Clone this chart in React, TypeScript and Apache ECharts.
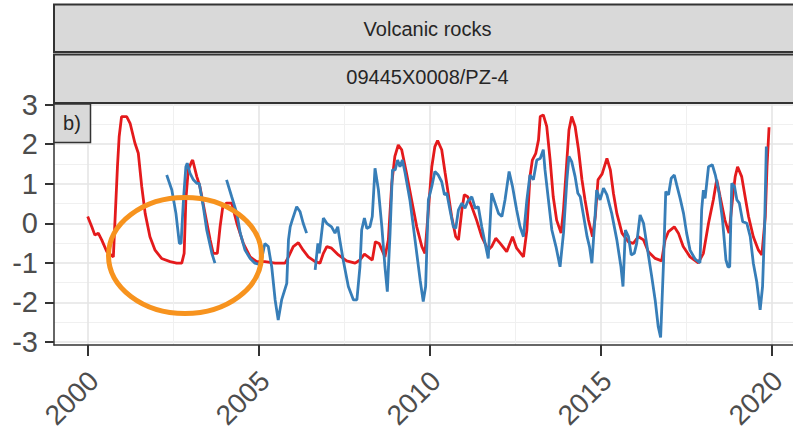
import React, { useEffect, useRef } from "react";
import * as echarts from "echarts";

const stripTitles = ["Volcanic rocks", "09445X0008/PZ-4"];
const panelTag = "b)";

const xTickYears = [2000, 2005, 2010, 2015, 2020];
const xMinorYears = [2002.5, 2007.5, 2012.5, 2017.5];
const yTicks = [-3, -2, -1, 0, 1, 2, 3];
const yMinorTicks = [-2.5, -1.5, -0.5, 0.5, 1.5, 2.5];

const redYears = [
  2000.0, 2000.12, 2000.21, 2000.31, 2000.41, 2000.56, 2000.75, 2000.87, 2000.92, 2000.99,
  2001.14, 2001.24, 2001.38, 2001.48, 2001.58, 2001.68, 2001.82, 2001.97, 2002.16, 2002.41,
  2002.6, 2002.75, 2002.82, 2002.87, 2002.94, 2003.04, 2003.07, 2003.19, 2003.28, 2003.43,
  2003.58, 2003.67, 2003.79, 2003.87, 2003.95, 2004.06, 2004.21, 2004.36, 2004.55, 2004.75,
  2004.94, 2005.18, 2005.48, 2005.77, 2005.87, 2006.01, 2006.16, 2006.3, 2006.45, 2006.65,
  2006.79, 2006.89, 2006.99, 2007.13, 2007.33, 2007.57, 2007.82, 2007.96, 2008.09, 2008.2,
  2008.32, 2008.41, 2008.52, 2008.69, 2008.79, 2008.89, 2008.98, 2009.08, 2009.18, 2009.32,
  2009.47, 2009.62, 2009.77, 2009.86, 2009.96, 2010.06, 2010.15, 2010.23, 2010.35, 2010.45,
  2010.54, 2010.64, 2010.76, 2010.84, 2010.94, 2011.01, 2011.11, 2011.23, 2011.37, 2011.52,
  2011.71, 2011.81, 2011.93, 2012.06, 2012.25, 2012.42, 2012.54, 2012.74, 2012.84, 2012.93,
  2013.0, 2013.1, 2013.18, 2013.23, 2013.32, 2013.42, 2013.52, 2013.61, 2013.71, 2013.84,
  2013.91, 2014.01, 2014.07, 2014.15, 2014.25, 2014.35, 2014.45, 2014.54, 2014.64, 2014.76,
  2014.84, 2014.92, 2015.04, 2015.18, 2015.28, 2015.37, 2015.47, 2015.62, 2015.81, 2015.95,
  2016.1, 2016.25, 2016.39, 2016.59, 2016.78, 2016.88, 2016.98, 2017.15, 2017.27, 2017.41,
  2017.61, 2017.85, 2018.0, 2018.15, 2018.29, 2018.39, 2018.49, 2018.63, 2018.75, 2018.85,
  2018.93, 2019.0, 2019.12, 2019.22, 2019.32, 2019.46, 2019.61, 2019.71, 2019.81, 2019.86,
  2019.92,
];
const redValues = [
  0.17, -0.09, -0.3, -0.25, -0.42, -0.72, -0.85, 1.43, 2.19, 2.7,
  2.7, 2.53, 2.03, 1.77, 0.93, 0.25, -0.34, -0.68, -0.89, -0.97,
  -1.01, -1.01, -0.76, 0.59, 1.35, 1.56, 1.6, 1.18, 0.93, 0.25,
  -0.42, -0.76, -0.76, -0.09, 0.42, 0.51, 0.51, 0.0, -0.51, -0.85,
  -0.97, -0.97, -1.01, -1.01, -0.85, -0.59, -0.49, -0.68, -0.85, -0.97,
  -1.01, -0.76, -0.59, -0.63, -0.8, -0.95, -1.01, -0.93, -0.78, -0.85,
  -0.93, -0.47, -0.51, -0.85, -0.42, 1.01, 1.69, 1.98, 1.86, 1.27,
  0.59, -0.09, -0.59, -0.76, 0.34, 1.43, 1.94, 2.09, 1.86, 1.27,
  0.76, 0.17, -0.34, -0.42, 0.34, 0.72, 0.67, 0.42, 0.08, -0.34,
  -0.68, -0.59, -0.38, -0.51, -0.72, -0.34, -0.63, -0.85, -0.17, 1.18,
  1.6, 1.77, 2.11, 2.7, 2.74, 2.45, 1.6, 0.67, 0.08, -0.25,
  0.34, 1.6, 2.36, 2.7, 2.45, 1.86, 1.1, 0.59, 0.08, -0.34,
  0.17, 1.1, 1.25, 1.64, 1.35, 0.76, 0.25, -0.25, -0.47, -0.51,
  -0.34, -0.42, -0.72, -0.89, -0.95, -0.42, -0.21, -0.09, -0.25, -0.59,
  -0.85, -1.0, -0.76, 0.0, 0.59, 1.1, 0.67, 0.08, -0.25, 0.59,
  1.18, 1.43, 1.18, 0.67, 0.17, -0.34, -0.68, -0.8, 0.17, 1.43,
  2.43,
];

const blueYears = [
  2002.31, 2002.46, 2002.58, 2002.68, 2002.73, 2002.8, 2002.87, 2002.91, 2002.99, 2003.09,
  2003.19, 2003.26, 2003.38, 2003.48, 2003.63, 2003.72, 2003.9,
  2004.06, 2004.21, 2004.36, 2004.46, 2004.6, 2004.75, 2004.89, 2005.05, 2005.18, 2005.28,
  2005.38, 2005.48, 2005.57, 2005.67, 2005.82, 2005.87, 2005.92, 2005.98, 2006.11, 2006.21,
  2006.3, 2006.4, 2006.52,
  2006.65, 2006.73, 2006.77, 2006.89, 2006.99, 2007.13, 2007.23, 2007.31, 2007.37, 2007.47,
  2007.62, 2007.77, 2007.87, 2007.96, 2008.01, 2008.09, 2008.16, 2008.25, 2008.32, 2008.4,
  2008.5, 2008.6, 2008.69, 2008.76, 2008.84, 2008.91, 2008.99, 2009.06, 2009.13, 2009.2,
  2009.28, 2009.42, 2009.57, 2009.72, 2009.81, 2009.88, 2009.96, 2010.06, 2010.15, 2010.25,
  2010.35, 2010.43, 2010.5, 2010.59, 2010.69, 2010.76, 2010.84, 2010.94, 2011.03, 2011.11,
  2011.23, 2011.33, 2011.42, 2011.52, 2011.62, 2011.71, 2011.81, 2011.91, 2012.01, 2012.11,
  2012.2, 2012.32, 2012.42, 2012.54, 2012.64, 2012.74, 2012.84, 2012.93, 2013.03, 2013.13,
  2013.23, 2013.32, 2013.37, 2013.47, 2013.57, 2013.69, 2013.81, 2013.91, 2014.01, 2014.07,
  2014.15, 2014.25, 2014.33, 2014.4, 2014.5, 2014.6, 2014.67, 2014.74, 2014.82, 2014.88,
  2014.98, 2015.08, 2015.18, 2015.32, 2015.47, 2015.59, 2015.65, 2015.72, 2015.81, 2015.89,
  2015.98, 2016.05, 2016.15, 2016.25, 2016.37, 2016.49, 2016.59, 2016.68, 2016.75, 2016.83,
  2016.9, 2016.98, 2017.06, 2017.15, 2017.22, 2017.32, 2017.42, 2017.51, 2017.61, 2017.76,
  2017.9, 2017.95, 2018.0, 2018.05, 2018.15, 2018.26, 2018.35, 2018.46, 2018.56, 2018.66,
  2018.72, 2018.77, 2018.83, 2018.91, 2018.98, 2019.05, 2019.15, 2019.27, 2019.37, 2019.46,
  2019.56, 2019.66, 2019.73, 2019.79, 2019.84,
];
const blueValues = [
  1.22, 0.84, 0.25, -0.51, -0.51, 0.59, 1.43, 1.52, 1.27, 1.1,
  1.01, 1.01, 0.42, -0.17, -0.76, -1.01, null,
  1.1, 0.67, 0.25, -0.25, -0.68, -0.89, -1.01, -1.05, -0.51, -0.59,
  -1.1, -1.94, -2.45, -1.94, -1.52, -0.42, -0.09, 0.08, 0.42, 0.29,
  0.0, -0.25, null,
  -1.18, -0.51, -0.76, 0.13, 0.0, -0.09, -0.25, -0.09, -0.42, -0.93,
  -1.6, -1.94, -1.94, -1.1, -0.17, 0.13, -0.13, -0.09, 0.17, 1.39,
  0.84, -0.09, -1.1, -1.73, -0.25, 1.35, 1.35, 1.6, 1.43, 1.6,
  1.27, 0.59, -0.42, -1.44, -1.98, -1.6, 0.59, 0.93, 1.31, 1.22,
  1.05, 0.72, 0.76, 0.34, -0.09, -0.13, 0.34, 0.51, 0.38, 0.55,
  0.67, 0.38, 0.42, -0.09, -0.51, -0.89, 0.76, 0.51, 0.25, 0.17,
  0.59, 1.31, 0.93, 0.34, -0.09, -0.34, 0.59, 1.22, 1.1, 1.6,
  1.64, 1.86, 1.35, 0.59, -0.17, -0.59, -1.1, -0.25, 1.1, 1.69,
  1.56, 1.18, 0.76, 0.67, 0.17, -0.34, -0.59, -1.01, 0.0, 0.84,
  0.59, 0.89, 0.72, 0.25, -0.42, -1.1, -1.6, -0.17, -0.34, -0.8,
  -0.76, -0.51, 0.21, 0.0, -0.68, -1.35, -1.94, -2.62, -2.89, -1.1,
  0.8, 0.72, 1.14, 1.22, 0.97, 0.63, 0.25, -0.25, -0.68, -0.91,
  -1.0, 0.34, 0.84, 0.63, 1.43, 1.48, 1.22, 0.76, 0.08, -0.93,
  -1.1, -1.1, 1.01, 0.93, 0.59, 0.51, 0.04, 0.0, -0.34, -1.01,
  -1.48, -2.19, -1.6, -0.09, 1.94,
];

const FONT = "'Liberation Sans', Arial, sans-serif";
const RED = "#E41A1C";
const BLUE = "#377EB8";

export default function App() {
  const ref = useRef<HTMLDivElement>(null);

  useEffect(() => {
    document.body.style.margin = "0";
    if (!ref.current) return;
    const chart = echarts.init(ref.current, undefined, { renderer: "svg" });

    const redData = redYears.map((t, i) => [t, redValues[i]]);
    const blueData = blueYears.map((t, i) => [t, blueValues[i]]);

    const xMin = 1999.015;
    const xMax = 2020.62;
    const yMin = -3.08;
    const yMax = 3.035;

    chart.setOption({
      animation: false,
      backgroundColor: "#ffffff",
      grid: {
        left: 54,
        top: 103.3,
        right: 0,
        bottom: 87,
        containLabel: false,
        outerBoundsMode: "none",
      },
      xAxis: [
        {
          type: "value",
          min: xMin,
          max: xMax,
          position: "bottom",
          axisLine: { show: true, onZero: false, lineStyle: { color: "#333333", width: 1.5 } },
          axisTick: {
            show: true,
            length: 11,
            customValues: xTickYears,
            lineStyle: { color: "#333333", width: 2 },
          },
          axisLabel: {
            customValues: xTickYears,
            formatter: (v: number) => String(Math.round(v)),
            rotate: 45,
            fontSize: 28,
            lineHeight: 17,
            verticalAlign: "top",
            color: "#4d4d4d",
            fontFamily: FONT,
            margin: 25,
          },
          splitLine: { show: true, lineStyle: { color: "#e5e5e5", width: 1.6 } },
        },
        {
          type: "value",
          min: xMin,
          max: xMax,
          position: "bottom",
          axisLine: { show: false, onZero: false },
          axisTick: { show: false, customValues: xMinorYears },
          axisLabel: { show: false, customValues: xMinorYears },
          splitLine: { show: true, lineStyle: { color: "#f0f0f0", width: 1 } },
        },
      ],
      yAxis: [
        {
          type: "value",
          min: yMin,
          max: yMax,
          position: "left",
          axisLine: { show: true, onZero: false, lineStyle: { color: "#333333", width: 1.5 } },
          axisTick: {
            show: true,
            length: 9,
            customValues: yTicks,
            lineStyle: { color: "#333333", width: 2 },
          },
          axisLabel: {
            customValues: yTicks,
            formatter: (v: number) => String(Math.round(v)),
            fontSize: 29,
            color: "#4d4d4d",
            fontFamily: FONT,
            margin: 16,
          },
          splitLine: { show: true, lineStyle: { color: "#e5e5e5", width: 1.6 } },
        },
        {
          type: "value",
          min: yMin,
          max: yMax,
          position: "right",
          axisLine: { show: false, onZero: false },
          axisTick: { show: false, customValues: yMinorTicks },
          axisLabel: { show: false, customValues: yMinorTicks },
          splitLine: { show: true, lineStyle: { color: "#f0f0f0", width: 1 } },
        },
      ],
      series: [
        {
          name: "red",
          type: "line",
          xAxisIndex: 0,
          yAxisIndex: 0,
          data: redData,
          showSymbol: false,
          connectNulls: false,
          lineStyle: { color: RED, width: 2.8 },
          itemStyle: { color: RED },
          z: 3,
        },
        {
          name: "blue",
          type: "line",
          xAxisIndex: 0,
          yAxisIndex: 0,
          data: blueData,
          showSymbol: false,
          connectNulls: false,
          lineStyle: { color: BLUE, width: 2.8 },
          itemStyle: { color: BLUE },
          z: 4,
        },
      ],
      graphic: [
        {
          type: "rect",
          shape: { x: 54, y: 4.5, width: 760, height: 47.5 },
          style: { fill: "#d9d9d9", stroke: "#333333", lineWidth: 2 },
          z: 10,
        },
        {
          type: "text",
          x: 427.5,
          y: 29,
          style: {
            text: stripTitles[0],
            fontSize: 20,
            fontFamily: FONT,
            fill: "#262626",
            textAlign: "center",
            textVerticalAlign: "middle",
          },
          z: 11,
        },
        {
          type: "rect",
          shape: { x: 54, y: 54.5, width: 760, height: 48.5 },
          style: { fill: "#d9d9d9", stroke: "#333333", lineWidth: 2 },
          z: 10,
        },
        {
          type: "text",
          x: 427.5,
          y: 77,
          style: {
            text: stripTitles[1],
            fontSize: 20,
            fontFamily: FONT,
            fill: "#262626",
            textAlign: "center",
            textVerticalAlign: "middle",
          },
          z: 11,
        },
        {
          type: "rect",
          shape: { x: 54, y: 104, width: 36.5, height: 38.5 },
          style: { fill: "#d9d9d9", stroke: "#333333", lineWidth: 1.5 },
          z: 10,
        },
        {
          type: "text",
          x: 72,
          y: 123,
          style: {
            text: panelTag,
            fontSize: 20,
            fontFamily: FONT,
            fill: "#262626",
            textAlign: "center",
            textVerticalAlign: "middle",
          },
          z: 11,
        },
        {
          type: "ellipse",
          shape: { cx: 185, cy: 255.5, rx: 76.5, ry: 58 },
          style: { fill: "none", stroke: "#F7931E", lineWidth: 5 },
          z: 12,
        },
      ],
    });

    return () => {
      chart.dispose();
    };
  }, []);

  return <div ref={ref} style={{ width: 793, height: 432 }} />;
}
